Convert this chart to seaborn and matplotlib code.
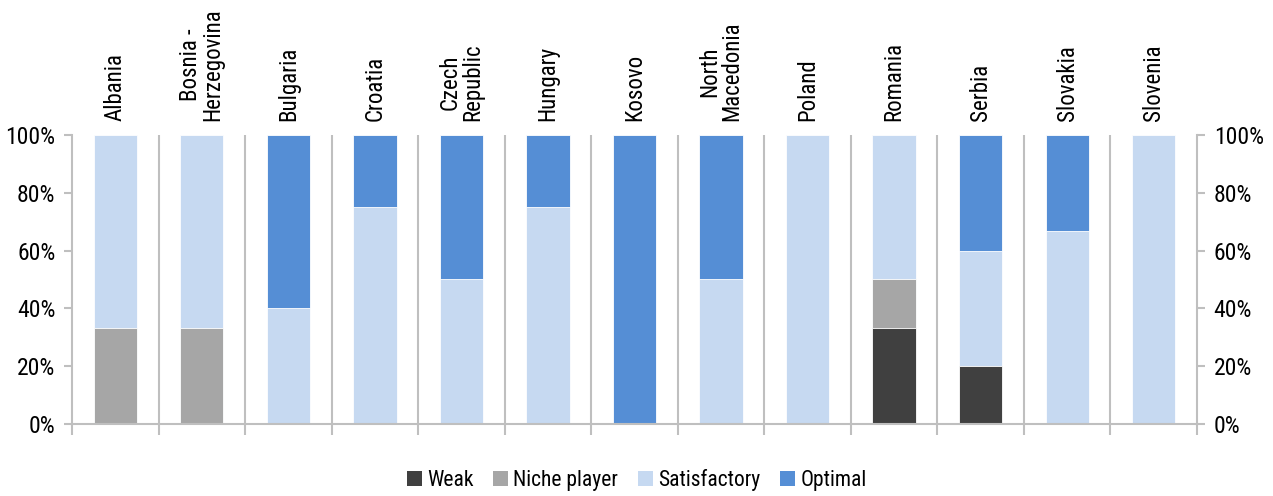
import numpy as np
import pandas as pd
import seaborn as sns
import matplotlib
matplotlib.use("Agg")
import matplotlib.pyplot as plt
from matplotlib import font_manager
from matplotlib.patches import Patch
from matplotlib.ticker import FixedLocator, PercentFormatter

# Shares of each rating by country (percent)
countries = ["Albania", "Bosnia -\nHerzegovina", "Bulgaria", "Croatia", "Czech\nRepublic",
             "Hungary", "Kosovo", "North\nMacedonia", "Poland", "Romania", "Serbia",
             "Slovakia", "Slovenia"]
weak = [0, 0, 0, 0, 0, 0, 0, 0, 0, 33.3, 20, 0, 0]
niche = [33.3, 33.3, 0, 0, 0, 0, 0, 0, 0, 16.7, 0, 0, 0]
satisfactory = [66.7, 66.7, 40, 75, 50, 75, 0, 50, 100, 50, 40, 66.7, 100]
optimal = [0, 0, 60, 25, 50, 25, 100, 50, 0, 0, 40, 33.3, 0]

series_names = ["Weak", "Niche player", "Satisfactory", "Optimal"]
series_colors = ["#404040", "#a6a6a6", "#c6d9f1", "#558ed5"]

sns.set_theme(style="white")

# Prefer a narrow sans face when one is available
available = {f.name for f in font_manager.fontManager.ttflist}
family = next((f for f in ["Liberation Sans Narrow", "DejaVu Sans Condensed",
                           "Roboto Condensed", "Open Sans Condensed", "Roboto"]
               if f in available), "DejaVu Sans")
plt.rcParams["font.family"] = [family, "DejaVu Sans"]
plt.rcParams["text.color"] = "black"
plt.rcParams["xtick.labelcolor"] = "black"
plt.rcParams["ytick.labelcolor"] = "black"

df = pd.DataFrame({"country": countries, "Weak": weak, "Niche player": niche,
                   "Satisfactory": satisfactory, "Optimal": optimal})
cum = df[series_names].cumsum(axis=1)

fig = plt.figure(figsize=(12.73, 4.96), dpi=100)
ax = fig.add_axes([0.0566, 0.1452, 0.8837, 0.5826])

# Stacked bars: draw cumulative totals from the top layer down
for name, color in reversed(list(zip(series_names, series_colors))):
    sns.barplot(x=df["country"], y=cum[name], order=countries, color=color,
                width=0.5, ax=ax, saturation=1, edgecolor="white", linewidth=0.6)

grid_color = "#bfbfbf"
n = len(countries)
ax.set_xlim(-0.5, n - 0.5)
ax.set_ylim(0, 100)

# Category separators
ax.vlines(np.arange(0.5, n - 0.5, 1), 0, 100, color=grid_color, linewidth=1.5, zorder=0)

for side in ["left", "right", "bottom"]:
    ax.spines[side].set_color(grid_color)
    ax.spines[side].set_linewidth(1.5)
ax.spines["top"].set_visible(False)

# Category labels along the top
ax.set_xticks(range(n))
ax.set_xticklabels(countries, rotation=90, fontsize=16.5, multialignment="center",
                   linespacing=0.95)
ax.tick_params(axis="x", which="major", bottom=False, top=False,
               labelbottom=False, labeltop=True, pad=4)
ax.xaxis.set_minor_locator(FixedLocator(np.arange(-0.5, n, 1)))
ax.tick_params(axis="x", which="minor", bottom=True, length=8, width=1.5, color=grid_color)

ax.set_yticks(np.arange(0, 101, 20))
ax.yaxis.set_major_formatter(PercentFormatter(decimals=0))
ax.tick_params(axis="y", left=True, right=True, labelleft=True, labelright=True,
               length=6, width=1.5, color=grid_color, labelsize=17, pad=6)
ax.set_xlabel("")
ax.set_ylabel("")

handles = [Patch(facecolor=c, edgecolor="none", label=l) for l, c in zip(series_names, series_colors)]
fig.legend(handles=handles, loc="center", bbox_to_anchor=(0.5, 0.033), ncol=4, frameon=False,
           fontsize=15.5, handlelength=0.7, handleheight=0.7, handletextpad=0.25,
           columnspacing=0.9)

fig.savefig("out.png", dpi=100)
